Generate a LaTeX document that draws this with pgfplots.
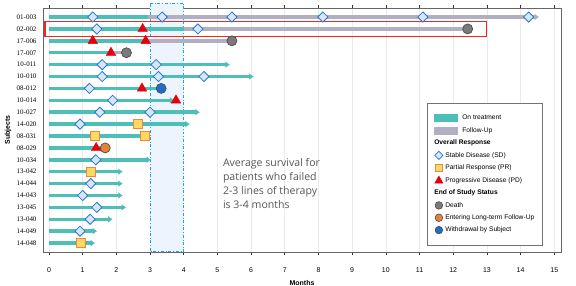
\documentclass[border=0pt]{standalone}
\usepackage{fontspec}
\setmainfont{Liberation Sans}
\newfontfamily\subjfont{Liberation Serif}
\newfontfamily\notefont{Open Sans}
\usepackage{pgfplots}
\pgfplotsset{compat=1.18}
\usetikzlibrary{arrows.meta}

\definecolor{ontrt}{HTML}{4EBEB8}
\definecolor{follow}{HTML}{B1AFC2}
\definecolor{sdfill}{HTML}{DAE5F5}
\definecolor{sdedge}{HTML}{1F7BD6}
\definecolor{prfill}{HTML}{FFD966}
\definecolor{predge}{HTML}{F0883A}
\definecolor{pdred}{HTML}{E5000D}
\definecolor{death}{HTML}{7A7A7A}
\definecolor{ltfu}{HTML}{E8803A}
\definecolor{wdraw}{HTML}{1F6FC8}
\definecolor{shadefill}{HTML}{EDF4FD}
\definecolor{shadeedge}{HTML}{1AA7E0}
\definecolor{boxred}{HTML}{F0281E}
\definecolor{notegray}{HTML}{555555}

\pgfplotsset{
  trt/.style={ontrt, line width=3.5bp, forget plot},
  trtarrow/.style={trt, -{Latex[length=4.5bp,width=7bp]}},
  fu/.style={follow, line width=3.5bp, forget plot},
  fuarrow/.style={fu, -{Latex[length=4.5bp,width=7bp]}},
  sd/.style={only marks, mark=square*, mark size=3.6bp,
    mark options={rotate=45, fill=sdfill, draw=sdedge, line width=0.8bp}},
  pr/.style={only marks, mark=square*, mark size=4.6bp,
    mark options={fill=prfill, draw=predge, line width=0.9bp}},
  pd/.style={only marks, mark=triangle*, mark size=5.6bp,
    mark options={fill=pdred, draw=pdred, line width=0.3bp}},
  dth/.style={only marks, mark=*, mark size=5bp,
    mark options={fill=death, draw=black!70, line width=0.7bp}},
  lt/.style={only marks, mark=*, mark size=5bp,
    mark options={fill=ltfu, draw=black!70, line width=0.7bp}},
  wd/.style={only marks, mark=*, mark size=5bp,
    mark options={fill=wdraw, draw=black!70, line width=0.7bp}},
  % legend symbols: a fixed 8bp cell with one mark in its centre
  legmark/.style={draw=none, fill=none, mark=none,
    legend image code/.code={
      \path[draw=none, fill=none] (-4bp,-4bp) rectangle (4bp,4bp);
      \path[draw=none, fill=none] plot[mark=#1] coordinates {(0bp,0bp)};}},
  legbar/.style={draw=none, fill=none, mark=none,
    legend image code/.code={
      \fill[#1, overlay] (-5bp,-4bp) rectangle (19bp,4bp);
      \path[draw=none, fill=none] (-4bp,-4bp) rectangle (4bp,4bp);}},
  leghead/.style={draw=none, fill=none, mark=none,
    legend image code/.code={}},
}

\begin{document}
\begin{tikzpicture}
\path[use as bounding box] (-43bp,-34bp) rectangle (533bp,252bp);
\begin{axis}[
  scale only axis, width=518bp, height=244bp,
  xmin=-0.178, xmax=15.2, ymin=0.24, ymax=20.75, y dir=reverse,
  clip=false,
  xtick={0,...,15}, ytick={1,...,20},
  yticklabels={01-003,02-002,17-006,17-007,10-011,10-010,08-012,10-014,10-027,14-020,
               08-031,08-029,10-034,13-042,14-044,14-043,13-045,13-040,14-049,14-048},
  yticklabel style={font=\subjfont\fontsize{7}{8}\selectfont},
  xticklabel style={font=\fontsize{7}{8}\selectfont, yshift=-9.5bp},
  /pgf/number format/assume math mode=true,
  xmajorgrids, grid style={black!8, line width=0.6bp},
  ytick style={draw=none},
  xtick style={black!80, line width=0.6bp},
  tick align=outside, major tick length=3bp,
  axis line style={black!60, line width=0.8bp},
  xlabel={\textbf{Months}}, ylabel={\textbf{Subjects}},
  label style={font=\fontsize{7}{8}\selectfont},
  xlabel style={at={(axis description cs:0.5,0)}, anchor=center, yshift=-31bp},
  ylabel style={at={(axis description cs:0,0.5)}, anchor=center, yshift=35bp},
  legend style={at={(0.7413,0.6107)}, anchor=north west, draw=black!55,
    line width=0.6bp, fill=white, font=\fontsize{6.7}{7.5}\selectfont,
    inner xsep=7.5bp, inner ysep=11bp, row sep=4.35bp,
    nodes={inner sep=0.8bp},
    /tikz/every odd column/.style={column sep=1.5bp}},
  legend cell align=left,
]
% survival window, months 3 to 4
\addplot[fill=shadefill, draw=shadeedge, dash dot, line width=0.9bp, forget plot]
  coordinates {(3,-0.18) (4,-0.18) (4,20.72) (3,20.72)} -- cycle;

% follow-up periods
\addplot[fuarrow] coordinates {(2.95,1) (14.55,1)};
\addplot[fu] coordinates {(4.0,2) (12.43,2)};
\addplot[fu] coordinates {(2.9,3) (5.43,3)};
\addplot[fu] coordinates {(1.85,4) (2.3,4)};

% time on treatment
\addplot[trt] coordinates {(0,1) (2.95,1)};
\addplot[trt] coordinates {(0,2) (4.0,2)};
\addplot[trt] coordinates {(0,3) (2.9,3)};
\addplot[trt] coordinates {(0,4) (1.85,4)};
\addplot[trtarrow] coordinates {(0,5) (5.37,5)};
\addplot[trtarrow] coordinates {(0,6) (6.08,6)};
\addplot[trt] coordinates {(0,7) (3.3,7)};
\addplot[trtarrow] coordinates {(0,8) (3.72,8)};
\addplot[trtarrow] coordinates {(0,9) (4.48,9)};
\addplot[trtarrow] coordinates {(0,10) (4.18,10)};
\addplot[trt] coordinates {(0,11) (2.85,11)};
\addplot[trt] coordinates {(0,12) (1.6,12)};
\addplot[trtarrow] coordinates {(0,13) (3.03,13)};
\addplot[trtarrow] coordinates {(0,14) (2.19,14)};
\addplot[trtarrow] coordinates {(0,15) (2.19,15)};
\addplot[trtarrow] coordinates {(0,16) (2.19,16)};
\addplot[trtarrow] coordinates {(0,17) (2.29,17)};
\addplot[trtarrow] coordinates {(0,18) (1.89,18)};
\addplot[trtarrow] coordinates {(0,19) (1.43,19)};
\addplot[trtarrow] coordinates {(0,20) (1.37,20)};

% highlighted subject
\addplot[draw=boxred, line width=1.1bp, forget plot]
  coordinates {(-0.12,1.41) (13.0,1.41) (13.0,2.62) (-0.12,2.62)} -- cycle;

% overall response
\addplot[sd, forget plot] coordinates {
  (1.3,1) (3.36,1) (5.43,1) (8.13,1) (11.1,1) (14.24,1)
  (1.42,2) (4.42,2)
  (1.58,5) (3.18,5)
  (1.58,6) (3.25,6) (4.6,6)
  (1.2,7) (1.89,8) (1.51,9) (3.0,9) (0.92,10)
  (1.39,13) (1.24,15) (1.0,16) (1.42,17) (1.22,18) (0.92,19)};
\addplot[pr, forget plot] coordinates {
  (2.65,10) (1.37,11) (2.85,11) (1.25,14) (0.94,20)};
\addplot[pd, forget plot] coordinates {
  (2.78,2) (1.3,3) (2.87,3) (1.84,4) (2.76,7) (3.77,8) (1.4,12)};

% end of study status
\addplot[dth, forget plot] coordinates {(12.43,2) (5.43,3) (2.3,4)};
\addplot[lt, forget plot] coordinates {(1.67,12)};
\addplot[wd, forget plot] coordinates {(3.33,7)};

\node[anchor=north west, align=left, inner sep=0pt, text=notegray,
      font=\notefont\fontsize{10.6}{14}\selectfont]
  at (axis cs:5.16,12.9)
  {Average survival for\\patients who failed\\2-3 lines of therapy\\is 3-4 months};

% legend
\addlegendimage{legbar=ontrt}
\addlegendentry{\hspace{17bp}On treatment}
\addlegendimage{legbar=follow}
\addlegendentry{\hspace{17bp}Follow-Up}
\addlegendimage{leghead}
\addlegendentry{\hspace{-11bp}\textbf{Overall Response}}
\addlegendimage{legmark={square*, mark size=2.9bp, mark options={rotate=45, fill=sdfill, draw=sdedge, line width=0.7bp}}}
\addlegendentry{Stable Disease (SD)}
\addlegendimage{legmark={square*, mark size=3.6bp, mark options={fill=prfill, draw=predge, line width=0.8bp}}}
\addlegendentry{Partial Response (PR)}
\addlegendimage{legmark={triangle*, mark size=4.6bp, mark options={fill=pdred, draw=pdred}}}
\addlegendentry{Progressive Disease (PD)}
\addlegendimage{leghead}
\addlegendentry{\hspace{-11bp}\textbf{End of Study Status}}
\addlegendimage{legmark={*, mark size=3.8bp, mark options={fill=death, draw=black!70, line width=0.6bp}}}
\addlegendentry{Death}
\addlegendimage{legmark={*, mark size=3.8bp, mark options={fill=ltfu, draw=black!70, line width=0.6bp}}}
\addlegendentry{Entering Long-term Follow-Up\hspace{15bp}}
\addlegendimage{legmark={*, mark size=3.8bp, mark options={fill=wdraw, draw=black!70, line width=0.6bp}}}
\addlegendentry{Withdrawal by Subject}
\end{axis}
\end{tikzpicture}
\end{document}
